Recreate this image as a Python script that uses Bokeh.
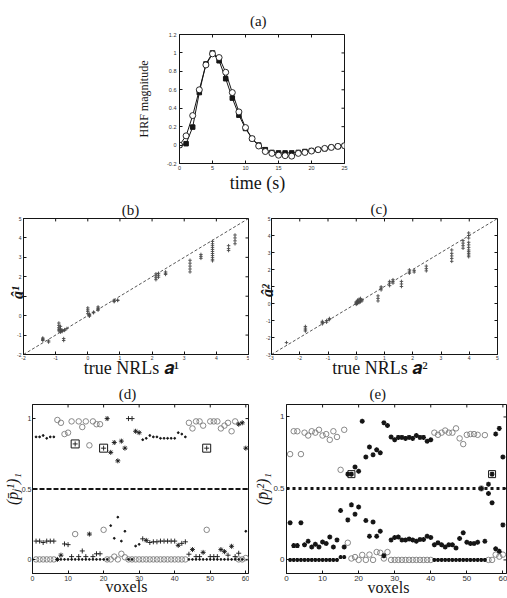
from bokeh.plotting import figure
from bokeh.models import Range1d, FixedTicker, Span, Title, CustomJSTickFormatter
from bokeh.layouts import column, row
from bokeh.embed import file_html
from bokeh.resources import INLINE

SERIF = "Liberation Serif"
SANS = "Liberation Sans"
INK = "#151515"
GREY = "#7c7c7c"
NB = "\u00a0"  # non-breaking space, used to nudge centred captions sideways

# ---------------- (a) HRF estimates ----------------
hrf_time = list(range(26))
hrf_square = [0.0, 0.015, 0.195, 0.57, 0.88, 1.0, 0.915, 0.72, 0.51, 0.325, 0.18,
              0.07, 0.0, -0.05, -0.08, -0.085, -0.085, -0.085, -0.08, -0.07, -0.06,
              -0.05, -0.04, -0.025, -0.015, -0.007]
hrf_circle = [0.0, 0.10, 0.32, 0.60, 0.87, 0.99, 0.95, 0.79, 0.57, 0.36, 0.19,
              0.07, -0.01, -0.07, -0.09, -0.11, -0.115, -0.12, -0.09, -0.08, -0.065,
              -0.05, -0.036, -0.025, -0.014, -0.007]
hrf_xticks = [0, 5, 10, 15, 20, 25]
hrf_yticks = [-0.2, 0, 0.2, 0.4, 0.6, 0.8, 1, 1.2]

# ---------------- (b) NRL estimates, class 1 ----------------
nrl1_true = [-1.40, -1.22, -0.90, -0.85, -0.80, -0.72, -0.65, -0.75, 0.0, 0.05, 0.18,
             0.32, 0.82, 0.93, 2.12, 2.20, 2.42, 3.18, 3.52, 3.88, 4.38, 4.58]
nrl1_est = [[-1.15, -1.22, -1.28, -1.20], [-1.30, -1.36],
            [-0.38, -0.50, -0.62, -0.70, -0.78], [-0.55, -0.68, -0.72, -0.80, -0.85],
            [-0.75, -0.78, -0.82], [-0.72, -0.76], [-0.66], [-1.18, -1.28],
            [0.40, 0.30, 0.22, 0.10], [0.08, 0.05, 0.0, -0.03], [0.15, 0.18],
            [0.45, 0.38, 0.33, 0.28], [0.80, 0.75, 0.72], [0.78, 0.80],
            [2.15, 2.05, 1.95, 1.85], [2.18, 2.08, 1.98], [2.25, 2.18, 2.12],
            [2.85, 2.70, 2.55, 2.40, 2.25], [3.15, 3.05, 2.95],
            [3.82, 3.70, 3.60, 3.50, 3.40, 3.30, 3.20, 3.10, 3.00, 2.90, 2.82],
            [3.60, 3.45, 3.35], [4.15, 4.00, 3.85, 3.70]]
nrl1_axis = [-2, 5]

# ---------------- (c) NRL estimates, class 2 ----------------
nrl2_true = [-2.47, -1.80, -1.20, -1.05, -0.95, 0.0, 0.05, 0.10, 0.15, 0.20, 0.77, 0.88,
             1.18, 1.30, 1.60, 1.88, 2.05, 2.48, 3.38, 3.78, 3.98]
nrl2_est = [[-2.30], [-1.35, -1.45, -1.55, -1.62], [-1.05, -1.12, -1.20], [-1.00, -1.10],
            [-0.88, -0.95], [0.10, 0.05, 0.0, -0.05], [0.20, 0.15, 0.08, 0.0],
            [0.25, 0.12, 0.05], [0.30, 0.20, 0.10], [0.22, 0.15], [0.45, 0.30, 0.15],
            [0.98, 0.90, 0.80], [1.30, 1.20, 1.05], [1.40, 1.30, 1.20], [1.30, 1.15, 1.00],
            [1.98, 1.85, 1.78], [1.95, 1.85], [2.20, 2.05, 1.92],
            [3.15, 2.95, 2.80, 2.65, 2.48], [3.70, 3.55, 3.40, 3.25],
            [4.15, 4.00, 3.85, 3.60, 3.45, 3.30, 3.15, 3.05, 2.95, 2.85, 2.75]]
nrl2_axis = [-3, 5]

# ---------------- (d) posterior probabilities, class 1 ----------------
voxels = list(range(1, 61))
d_circle = [0, 0, 0, 0, 0, 0, 0.99, 0.97, 0.89, 0.90,
            0.98, 0.18, 0.98, 0.94, 0.98, 0.81, 0.98, 0.96, 0.96, 0.21,
            0, 0, 0.02, 0, 0.04, 0.015, 0, 0, 0, 0,
            0, 0, 0, 0, 0, 0, 0, 0, 0, 0,
            0, 0, 0, 0.97, 0.93, 0.98, 0.98, 0.95, 0.21, 0.98,
            0.98, 0.98, 0.93, 0.95, 0.97, 0.91, 0.98, 0, 0, 0.01]
d_dot = [0.87, 0.87, 0.88, 0.86, 0.87, 0.87, 0, 0, 0, 0,
         0, 0, 0, 0, 0, 0, 0, 0, 0, 0,
         0, 0.24, 0.15, 0.30, 0.13, 0.20, 0, 0, 0.095, 0.107,
         0.85, 0.86, 0.88, 0.87, 0.87, 0.86, 0.86, 0.86, 0.86, 0.86,
         0.90, 0.89, 0.87, 0, 0, 0, 0, 0, 0, 0,
         0, 0, 0, 0, 0, 0, 0, 0, 0, 0.20]
d_plus_v = [1, 2, 3, 4, 5, 6, 9, 10, 11, 12, 13, 14, 15, 17, 18, 19, 20, 27, 28, 31,
            33, 34, 35, 36, 37, 38, 39, 40, 42, 43, 44, 46, 47, 49, 50, 51, 52, 55, 57, 58]
d_plus_p = [0.13, 0.13, 0.12, 0.13, 0.13, 0.13, 0.11, 0.105, 0.02, 0.82, 0.02, 0.06, 0.02,
            0.02, 0.04, 0.04, 0.79, 1.0, 1.0, 0.146, 0.12, 0.125, 0.125, 0.13, 0.13, 0.13,
            0.13, 0.13, 0.114, 0.125, 0.037, 0.02, 0.02, 0.79, 0.02, 0.02, 0.02, 0.03,
            0.02, 0.044]
d_star_v = [7, 8, 16, 21, 22, 23, 24, 25, 26, 29, 30, 32, 41, 45, 48, 53, 54, 56, 58, 59, 60]
d_star_p = [0.0, 0.03, 0.18, 1.0, 0.76, 0.83, 0.70, 0.84, 0.79, 0.91, 0.90, 0.135, 0.10,
            0.07, 0.05, 0.07, 0.055, 0.093, 0.96, 0.97, 0.79]
d_box_v = [12, 20, 49]
d_box_p = [0.82, 0.79, 0.79]

# ---------------- (e) posterior probabilities, class 2 ----------------
e_circle = [0.74, 0.90, 0.90, 0.74, 0.89, 0.87, 0.90, 0.89, 0.91, 0.87,
            0.88, 0.84, 0.90, 0.86, 0.63, 0.91, 0.12, 0.01, 0.02, 0.0,
            0.035, 0.0, 0.037, 0.0, 0.055, 0.05, 0.01, 0.055, 0, 0,
            0, 0, 0, 0, 0, 0, 0, 0, 0, 0,
            0.89, 0.875, 0.89, 0.905, 0.89, 0.89, 0.92, 0.85, 0.81, 0.875,
            0.88, 0.88, 0.875, 0.50, 0.873, 0, 0, 0.037, 0.023, 0.037]
e_star_v = [1, 2, 3, 4, 5, 6, 7, 8, 9, 10, 11, 12, 13, 14, 15, 16,
            17, 17, 18, 18, 19, 19, 20, 20, 21, 22, 22, 23, 23, 24, 24, 25, 25, 26, 26, 27, 27, 28,
            29, 29, 30, 30, 31, 31, 32, 32, 33, 33, 34, 34, 35, 35, 36, 36, 37, 37, 38, 38,
            39, 39, 40, 40,
            41, 42, 43, 44, 45, 46, 47, 48, 49, 50, 51, 52, 53, 54, 55,
            56, 56, 57, 57, 58, 58, 59, 59, 60, 60]
e_star_p = [0.26, 0.10, 0.10, 0.26, 0.106, 0.13, 0.09, 0.11, 0.09, 0.125, 0.115, 0.16, 0.09,
            0.14, 0.345, 0.09,
            0.60, 0.28, 0.60, 0.385, 0.65, 0.32, 0.62, 0.37, 0.97, 0.72, 0.275, 0.79, 0.165,
            0.735, 0.265, 0.77, 0.165, 0.75, 0.20, 0.96, 0.03, 0.94,
            0.86, 0.14, 0.84, 0.157, 0.857, 0.16, 0.857, 0.14, 0.85, 0.14, 0.857, 0.147,
            0.85, 0.14, 0.87, 0.13, 0.857, 0.143, 0.857, 0.143, 0.83, 0.166, 0.84, 0.157,
            0.106, 0.12, 0.106, 0.09, 0.106, 0.106, 0.083, 0.15, 0.19, 0.124, 0.115, 0.115,
            0.124, 0.50, 0.13,
            0.53, 0.465, 0.60, 0.40, 0.88, 0.078, 0.92, 0.06, 0.72, 0.245]
e_base_v = [1, 2, 3, 4, 5, 6, 7, 8, 9, 10, 11, 12, 13, 14, 15, 16,
            41, 42, 43, 44, 45, 46, 47, 48, 49, 50, 51, 52, 53, 54, 55]
e_base_p = [0, 0, 0, 0, 0, 0, 0, 0, 0, 0, 0, 0, 0, 0, 0.02, 0.02,
            0, 0, 0, 0, 0, 0, 0, 0, 0, 0, 0, 0, 0, 0, 0]
e_box_v = [18, 57]
e_box_p = [0.60, 0.60]

prob_xticks = [0, 10, 20, 30, 40, 50, 60]
prob_yticks = [0, 0.5, 1]
threshold = 0.5

TICK_FMT = CustomJSTickFormatter(code="return String(Number(tick.toFixed(2)));")
TICK_LEN = 3  # inward tick length, px


def panel(width, height, xr, yr, borders, xticks, yticks, label_px, x_standoff, y_standoff):
    left, right, top, bottom = borders
    p = figure(width=width, height=height, x_range=Range1d(*xr), y_range=Range1d(*yr),
               output_backend="svg", toolbar_location=None, title=None,
               min_border_left=left, min_border_right=right,
               min_border_top=top, min_border_bottom=bottom)
    p.grid.visible = False
    p.outline_line_color = INK
    p.outline_line_width = 1
    p.background_fill_color = "white"
    p.border_fill_color = "white"
    p.xaxis.ticker = FixedTicker(ticks=xticks)
    p.yaxis.ticker = FixedTicker(ticks=yticks)
    for ax, stand in ((p.xaxis[0], x_standoff), (p.yaxis[0], y_standoff)):
        ax.formatter = TICK_FMT
        ax.major_tick_in = TICK_LEN
        ax.major_tick_out = 0
        ax.minor_tick_line_color = None
        ax.axis_line_color = INK
        ax.major_tick_line_color = INK
        ax.major_label_standoff = stand
        ax.major_label_text_font = SANS
        ax.major_label_text_font_size = f"{label_px}px"
        ax.major_label_text_color = "#333333"
        ax.axis_label_text_color = INK
        ax.axis_label_text_font = SERIF
        ax.axis_label_text_font_style = "normal"
    # mirrored inward ticks along the top and right edges of the box
    dx = TICK_LEN * (xr[1] - xr[0]) / (width - left - right)
    dy = TICK_LEN * (yr[1] - yr[0]) / (height - top - bottom)
    p.segment(x0=xticks, y0=[yr[1]] * len(xticks), x1=xticks, y1=[yr[1] - dy] * len(xticks),
              line_color=INK, line_width=1)
    p.segment(x0=[xr[1]] * len(yticks), y0=yticks, x1=[xr[1] - dx] * len(yticks), y1=yticks,
              line_color=INK, line_width=1)
    return p


def caption(p, text, standoff):
    p.add_layout(Title(text=text, align="center", standoff=standoff, text_font=SERIF,
                       text_font_size="15px", text_font_style="normal", text_color=INK), "above")


def axis_text(ax, text, px, standoff, style="normal"):
    ax.axis_label = text
    ax.axis_label_text_font_size = f"{px}px"
    ax.axis_label_standoff = standoff
    ax.axis_label_text_font_style = style


# ---------------- (a) ----------------
pa = panel(507, 195, (0, 25), (-0.2, 1.2), (179, 163, 34, 31), hrf_xticks, hrf_yticks, 5.5, 2, 3)
pa.line(hrf_time, hrf_square, line_color=INK, line_width=1)
pa.line(hrf_time, hrf_circle, line_color=INK, line_width=1)
pa.scatter(hrf_time, hrf_square, marker="square", size=4.5, fill_color=INK, line_color=INK)
pa.scatter(hrf_time, hrf_circle, marker="circle", size=6, fill_color="white",
           line_color=INK, line_width=0.9)
caption(pa, "(a)" + NB * 2, 12)
axis_text(pa.xaxis[0], "time (s)" + NB * 2, 18, 0)
axis_text(pa.yaxis[0], "HRF magnitude", 12, 13)

# ---------------- (b) ----------------
pb = panel(249, 185, (-2, 5), (-2, 5), (23, 1, 21, 24), list(range(-2, 6)), list(range(-2, 6)), 5, 1, 2)
pb.line(nrl1_axis, nrl1_axis, line_color="#444444", line_width=0.9, line_dash="3 2")
bx = [t for t, ests in zip(nrl1_true, nrl1_est) for _ in ests]
by = [e for ests in nrl1_est for e in ests]
pb.scatter(bx, by, marker="cross", size=3.5, line_color="#4a4a4a", line_width=0.9)
caption(pb, "(b)" + NB * 3, 2)
axis_text(pb.xaxis[0], "true NRLs 𝒂¹" + NB * 2, 18, -5)
axis_text(pb.yaxis[0], "â¹" + NB * 3, 16, -12, style="bold italic")

# ---------------- (c) ----------------
pc = panel(258, 185, (-3, 5), (-3, 5), (22, 10, 23, 24), list(range(-3, 6)), list(range(-3, 6)), 5, 1, 1)
pc.line(nrl2_axis, nrl2_axis, line_color="#444444", line_width=0.9, line_dash="3 2")
cx = [t for t, ests in zip(nrl2_true, nrl2_est) for _ in ests]
cy = [e for ests in nrl2_est for e in ests]
pc.scatter(cx, cy, marker="cross", size=3.5, line_color="#4a4a4a", line_width=0.9)
caption(pc, "(c)" + NB * 3, 4)
axis_text(pc.xaxis[0], "true NRLs 𝒂²" + NB * 2, 18, -5)
axis_text(pc.yaxis[0], "â²" + NB * 2, 16, -13, style="bold italic")

# ---------------- (d) ----------------
pd_ = panel(249, 218, (0, 60.76), (-0.1, 1.1), (32, 1, 24, 22), prob_xticks, prob_yticks, 7, 2, 1)
pd_.add_layout(Span(location=threshold, dimension="width", line_color=INK,
                    line_width=2, line_dash="5 2"))
pd_.scatter(voxels, d_circle, marker="circle", size=5.5, fill_color=None,
            line_color=GREY, line_width=0.9)
pd_.scatter(voxels, d_dot, marker="circle", size=1.8, fill_color=INK, line_color=INK)
pd_.scatter(d_plus_v, d_plus_p, marker="cross", size=5, line_color=INK, line_width=0.9)
pd_.scatter(d_star_v, d_star_p, marker="asterisk", size=5, line_color=INK, line_width=0.9)
pd_.scatter(d_box_v, d_box_p, marker="square", size=8, fill_color=None,
            line_color=INK, line_width=1)
caption(pd_, "(d)" + NB * 7, 6)
axis_text(pd_.xaxis[0], "voxels" + NB * 7, 16, -6)
axis_text(pd_.yaxis[0], "(p̄ⱼ¹)₁", 16, -2, style="italic")

# ---------------- (e) ----------------
pe = panel(258, 218, (0, 61.0), (-0.095, 1.087), (37, 1, 23, 24), prob_xticks, prob_yticks, 8, 2, 2)
pe.add_layout(Span(location=threshold, dimension="width", line_color=INK,
                   line_width=3, line_dash="3 3"))
pe.scatter(voxels, e_circle, marker="circle", size=5.5, fill_color=None,
           line_color=GREY, line_width=0.9)
pe.scatter(e_base_v, e_base_p, marker="asterisk", size=4, line_color=INK, line_width=1.2)
pe.scatter(e_star_v, e_star_p, marker="asterisk", size=5, line_color=INK, line_width=1.4)
pe.scatter(e_box_v, e_box_p, marker="square", size=7, fill_color=None,
           line_color=INK, line_width=1)
caption(pe, "(e)" + NB * 10, 5)
axis_text(pe.xaxis[0], "voxels" + NB * 4, 16, -5)
axis_text(pe.yaxis[0], "(p̄ⱼ²)₁", 16, -1, style="italic")

layout = column(pa, row(pb, pc, spacing=0), row(pd_, pe, spacing=0), spacing=0)

with open("out.html", "w") as fh:
    fh.write(file_html(layout, INLINE))
